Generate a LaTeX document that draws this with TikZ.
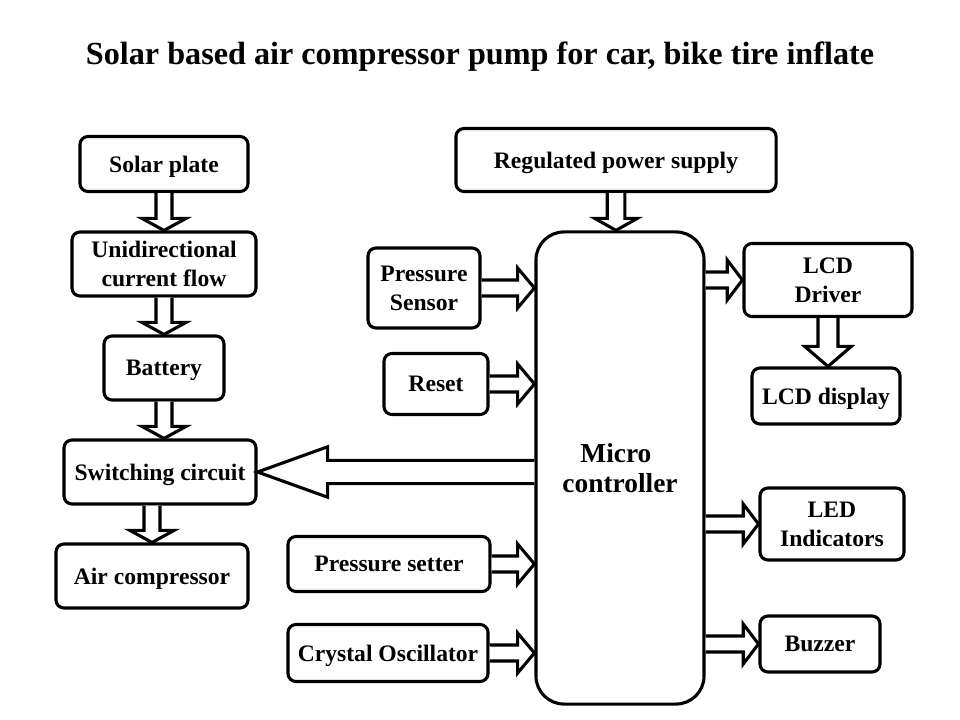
\documentclass[tikz,border=0pt]{standalone}
\usepackage{fontspec}
\setmainfont{Liberation Serif}
\usetikzlibrary{calc,positioning}

% block arrow: start, end, half shaft, half head, head length
\newcommand{\fatarrow}[5]{%
  \coordinate (fs) at (#1);
  \coordinate (fe) at (#2);
  \coordinate (fb) at ($(fe)!#5!(fs)$);
  \draw[fat] ($(fs)!#3!90:(fe)$) -- ($(fb)!#3!90:(fe)$) -- ($(fb)!#4!90:(fe)$)
    -- (fe) -- ($(fb)!#4!-90:(fe)$) -- ($(fb)!#3!-90:(fe)$) -- ($(fs)!#3!-90:(fe)$);
}

\tikzset{
  blk/.style={draw, line width=2.2pt, rounded corners=0.2cm, align=center,
    font=\fontsize{16.8}{20.6}\selectfont\bfseries, inner sep=2pt, text depth=0pt},
  fat/.style={line width=2.2pt, line join=miter, fill=white}
}

\begin{document}
\begin{tikzpicture}[x=0.025cm,y=-0.025cm]
  \useasboundingbox (0,0) rectangle (960,720);
  \node[font=\fontsize{22.9}{26}\selectfont\bfseries] (title) at (480,57)
    {Solar based air compressor pump for car, bike tire inflate};

  % left chain
  \node[blk, minimum width=4.2cm, minimum height=1.375cm] (sol) at (164,164) {Solar plate};
  \node[blk, minimum width=4.6cm, minimum height=1.6cm] (uni) at (164,264) {Unidirectional\\current flow};
  \node[blk, minimum width=3.0cm, minimum height=1.6cm] (bat) at (164,368) {Battery};
  \node[blk, minimum width=4.8cm, minimum height=1.6cm] (sw) at (160,472) {Switching circuit};
  \node[blk, minimum width=4.8cm, minimum height=1.6cm] (air) at (152,576) {Air compressor};

  % controller and its inputs
  \node[blk, minimum width=8.0cm, minimum height=1.575cm] (rps) at (616,160) {Regulated power supply};
  \node[blk, rounded corners=0.7cm, minimum width=4.2cm, minimum height=11.8cm,
    font=\fontsize{19.5}{22}\selectfont\bfseries] (mc) at (620,468)
    {Micro\hspace*{0.3em}\\controller};
  \node[blk, minimum width=2.8cm, minimum height=2.0cm] (sen) at (424,288) {Pressure\\Sensor};
  \node[blk, minimum width=2.6cm, minimum height=1.525cm] (rst) at (436,384) {Reset};
  \node[blk, minimum width=5.05cm, minimum height=1.375cm] (set) at (389,564) {Pressure setter};
  \node[blk, minimum width=5.0cm, minimum height=1.425cm] (osc) at (388,653) {Crystal Oscillator};

  % outputs
  \node[blk, minimum width=4.2cm, minimum height=1.825cm] (drv) at (828,280) {LCD\\Driver};
  \node[blk, minimum width=3.7cm, minimum height=1.4cm] (lcd) at (826,396) {LCD display};
  \node[blk, minimum width=3.6cm, minimum height=1.8cm] (led) at (832,524) {LED\\Indicators};
  \node[blk, minimum width=3.0cm, minimum height=1.4cm] (buz) at (820,644) {Buzzer};

  % arrows
  \fatarrow{sol.south}{uni.north}{0.2cm}{0.55cm}{0.3cm}
  \fatarrow{uni.south}{bat.north}{0.2cm}{0.55cm}{0.3cm}
  \fatarrow{bat.south}{bat.south |- sw.north}{0.2cm}{0.55cm}{0.3cm}
  \fatarrow{air.north |- sw.south}{air.north}{0.2cm}{0.55cm}{0.3cm}
  \fatarrow{rps.south}{rps.south |- mc.north}{0.22cm}{0.53cm}{0.3cm}
  \fatarrow{sen.east}{sen.east -| mc.west}{0.2cm}{0.5cm}{0.42cm}
  \fatarrow{rst.east}{rst.east -| mc.west}{0.2cm}{0.5cm}{0.42cm}
  \fatarrow{set.east}{set.east -| mc.west}{0.2cm}{0.5cm}{0.42cm}
  \fatarrow{osc.east}{osc.east -| mc.west}{0.2cm}{0.5cm}{0.42cm}
  \fatarrow{sw.east -| mc.west}{sw.east}{0.29cm}{0.63cm}{1.75cm}
  \fatarrow{drv.west -| mc.east}{drv.west}{0.2cm}{0.5cm}{0.38cm}
  \fatarrow{drv.south}{drv.south |- lcd.north}{0.25cm}{0.58cm}{0.5cm}
  \fatarrow{led.west -| mc.east}{led.west}{0.2cm}{0.5cm}{0.38cm}
  \fatarrow{buz.west -| mc.east}{buz.west}{0.2cm}{0.5cm}{0.38cm}
\end{tikzpicture}
\end{document}
